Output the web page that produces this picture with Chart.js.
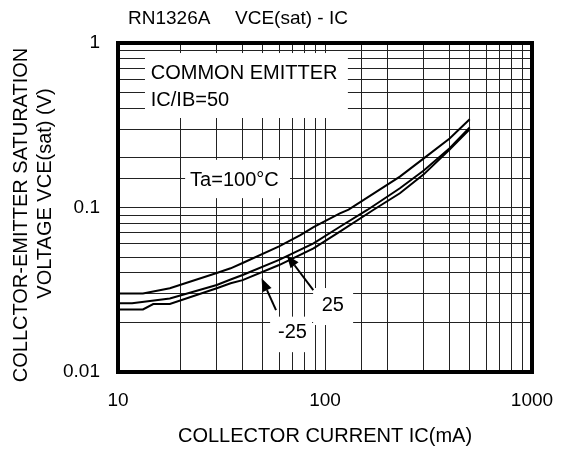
<!DOCTYPE html>
<html>
<head>
<meta charset="utf-8">
<script src="https://cdn.jsdelivr.net/npm/chart.js@4.4.0/dist/chart.umd.min.js"></script>
<style>
  html, body { margin: 0; padding: 0; background: #fff; }
  #wrap { width: 563px; height: 452px; }
</style>
</head>
<body>
<div id="wrap"><canvas id="c" width="563" height="452"></canvas></div>
<script>
// ---- Data ----
const ic100 = [10, 13.2, 17.8, 30, 35, 40, 60, 76, 88, 118, 130, 230, 300, 400, 500];
const vce100 = [0.030, 0.030, 0.0323, 0.040, 0.0427, 0.046, 0.058, 0.068, 0.076, 0.092, 0.097, 0.154, 0.199, 0.263, 0.344];

const ic25 = [10, 11.7, 17.8, 30, 35, 40, 60, 88, 118, 160, 230, 300, 400, 500];
const vce25 = [0.0262, 0.0262, 0.028, 0.0338, 0.0365, 0.0389, 0.048, 0.0606, 0.0764, 0.0966, 0.131, 0.168, 0.229, 0.307];

const icM25 = [10, 13.2, 14.8, 17.8, 30, 35, 40, 60, 88, 118, 171, 230, 300, 400, 500];
const vceM25 = [0.024, 0.024, 0.0259, 0.0259, 0.0323, 0.0346, 0.0362, 0.0447, 0.0565, 0.0713, 0.0966, 0.122, 0.159, 0.225, 0.299];

const xTickLabels = [10, 100, 1000];
const yTickLabels = [0.01, 0.1, 1];

const chartTitleParts = ['RN1326A', 'VCE(sat) - IC'];
const xAxisTitle = 'COLLECTOR CURRENT IC(mA)';
const yAxisTitleLines = ['COLLCTOR-EMITTER SATURATION', 'VOLTAGE VCE(sat) (V)'];

// annotation texts, anchored in data coordinates (IC mA, VCE V)
const noteTexts = ['COMMON EMITTER', 'IC/IB=50', 'Ta=100°C', '25', '-25'];
const noteX = [14.4, 14.4, 22.3, 96.4, 59.3];
const noteY = [0.653, 0.450, 0.145, 0.0252, 0.0174];
// white label boxes [x1, x2, y1, y2] in data coordinates
const boxX1 = [13.5, 21.1, 87.6, 54.3];
const boxX2 = [129, 67.8, 136.7, 86.6];
const boxY1 = [0.869, 0.195, 0.0324, 0.0217];
const boxY2 = [0.350, 0.114, 0.0193, 0.0132];
// arrows: tail -> head in data coordinates
const arrowTailX = [87.8, 58];
const arrowTailY = [0.0315, 0.0238];
const arrowHeadX = [65.3, 49.4];
const arrowHeadY = [0.0515, 0.0371];

const FONT = "'Liberation Sans', Arial, Helvetica, sans-serif";

function toPts(xs, ys) { return xs.map((x, i) => ({ x: x, y: ys[i] })); }
function isLabeled(v, list) { return list.some(t => Math.abs(Math.log10(v) - Math.log10(t)) < 1e-6); }

const decor = {
  id: 'decor',
  beforeDatasetsDraw(chart) {
    const { ctx, scales: { x, y } } = chart;
    ctx.save();
    ctx.fillStyle = '#fff';
    for (let i = 0; i < boxX1.length; i++) {
      const l = x.getPixelForValue(boxX1[i]), r = x.getPixelForValue(boxX2[i]);
      const t = y.getPixelForValue(boxY1[i]), b = y.getPixelForValue(boxY2[i]);
      ctx.fillRect(l, t, r - l, b - t);
    }
    ctx.fillStyle = '#000';
    ctx.font = '20px ' + FONT;
    ctx.textBaseline = 'middle';
    ctx.textAlign = 'left';
    for (let i = 0; i < noteTexts.length; i++) {
      ctx.fillText(noteTexts[i], x.getPixelForValue(noteX[i]), y.getPixelForValue(noteY[i]));
    }
    // arrows
    ctx.strokeStyle = '#000';
    ctx.lineWidth = 2;
    for (let i = 0; i < arrowTailX.length; i++) {
      const x0 = x.getPixelForValue(arrowTailX[i]), y0 = y.getPixelForValue(arrowTailY[i]);
      const x1 = x.getPixelForValue(arrowHeadX[i]), y1 = y.getPixelForValue(arrowHeadY[i]);
      const ang = Math.atan2(y1 - y0, x1 - x0);
      const hl = 13, hw = 5;
      const bx = x1 - hl * Math.cos(ang), by = y1 - hl * Math.sin(ang);
      ctx.beginPath();
      ctx.moveTo(x0, y0);
      ctx.lineTo(bx, by);
      ctx.stroke();
      ctx.beginPath();
      ctx.moveTo(x1, y1);
      ctx.lineTo(bx + hw * Math.sin(ang), by - hw * Math.cos(ang));
      ctx.lineTo(bx - hw * Math.sin(ang), by + hw * Math.cos(ang));
      ctx.closePath();
      ctx.fill();
    }
    ctx.restore();
  },
  afterDraw(chart) {
    const { ctx, chartArea: a } = chart;
    ctx.save();
    ctx.strokeStyle = '#000';
    ctx.lineWidth = 4;
    ctx.strokeRect(a.left, a.top, a.right - a.left, a.bottom - a.top);
    // chart title
    ctx.fillStyle = '#000';
    ctx.font = '19px ' + FONT;
    ctx.textBaseline = 'middle';
    ctx.textAlign = 'left';
    ctx.fillText(chartTitleParts[0], 128, 19);
    ctx.fillText(chartTitleParts[1], 235, 19);
    // y axis title (two lines, rotated)
    ctx.font = '20px ' + FONT;
    ctx.textAlign = 'center';
    ctx.save();
    ctx.translate(21, 215);
    ctx.rotate(-Math.PI / 2);
    ctx.fillText(yAxisTitleLines[0], 0, 0);
    ctx.restore();
    ctx.save();
    ctx.translate(45, 193.5);
    ctx.rotate(-Math.PI / 2);
    ctx.fillText(yAxisTitleLines[1], 0, 0);
    ctx.restore();
    ctx.restore();
  }
};

const lineStyle = { borderColor: '#000', borderWidth: 2, pointRadius: 0, tension: 0, fill: false };

new Chart(document.getElementById('c'), {
  type: 'line',
  data: {
    datasets: [
      Object.assign({ label: 'Ta=100°C', data: toPts(ic100, vce100) }, lineStyle),
      Object.assign({ label: '25', data: toPts(ic25, vce25) }, lineStyle),
      Object.assign({ label: '-25', data: toPts(icM25, vceM25) }, lineStyle)
    ]
  },
  options: {
    responsive: false,
    animation: false,
    devicePixelRatio: 1,
    layout: { padding: { left: 0, top: 43, right: 31, bottom: 0 } },
    plugins: { legend: { display: false }, tooltip: { enabled: false }, title: { display: false } },
    scales: {
      x: {
        type: 'logarithmic',
        min: 10, max: 1000,
        afterFit(s) { s.height = 80; },
        grid: { color: '#222', lineWidth: 1, drawTicks: true, tickLength: 17, tickColor: 'rgba(0,0,0,0)' },
        border: { display: false },
        ticks: {
          autoSkip: false, maxRotation: 0, padding: 0, color: '#000',
          font: { family: FONT, size: 19 },
          callback: (v) => isLabeled(v, xTickLabels) ? String(v) : ''
        },
        title: {
          display: true, text: xAxisTitle, color: '#000',
          font: { family: FONT, size: 20 }, padding: { top: 4, bottom: 4 }
        }
      },
      y: {
        type: 'logarithmic',
        min: 0.01, max: 1,
        afterFit(s) { s.width = 118; },
        grid: { color: '#222', lineWidth: 1, drawTicks: true, tickLength: 18, tickColor: 'rgba(0,0,0,0)' },
        border: { display: false },
        ticks: {
          autoSkip: false, padding: 0, color: '#000',
          font: { family: FONT, size: 19 },
          callback: (v) => isLabeled(v, yTickLabels) ? String(v) : ''
        }
      }
    }
  },
  plugins: [decor]
});
</script>
</body>
</html>
